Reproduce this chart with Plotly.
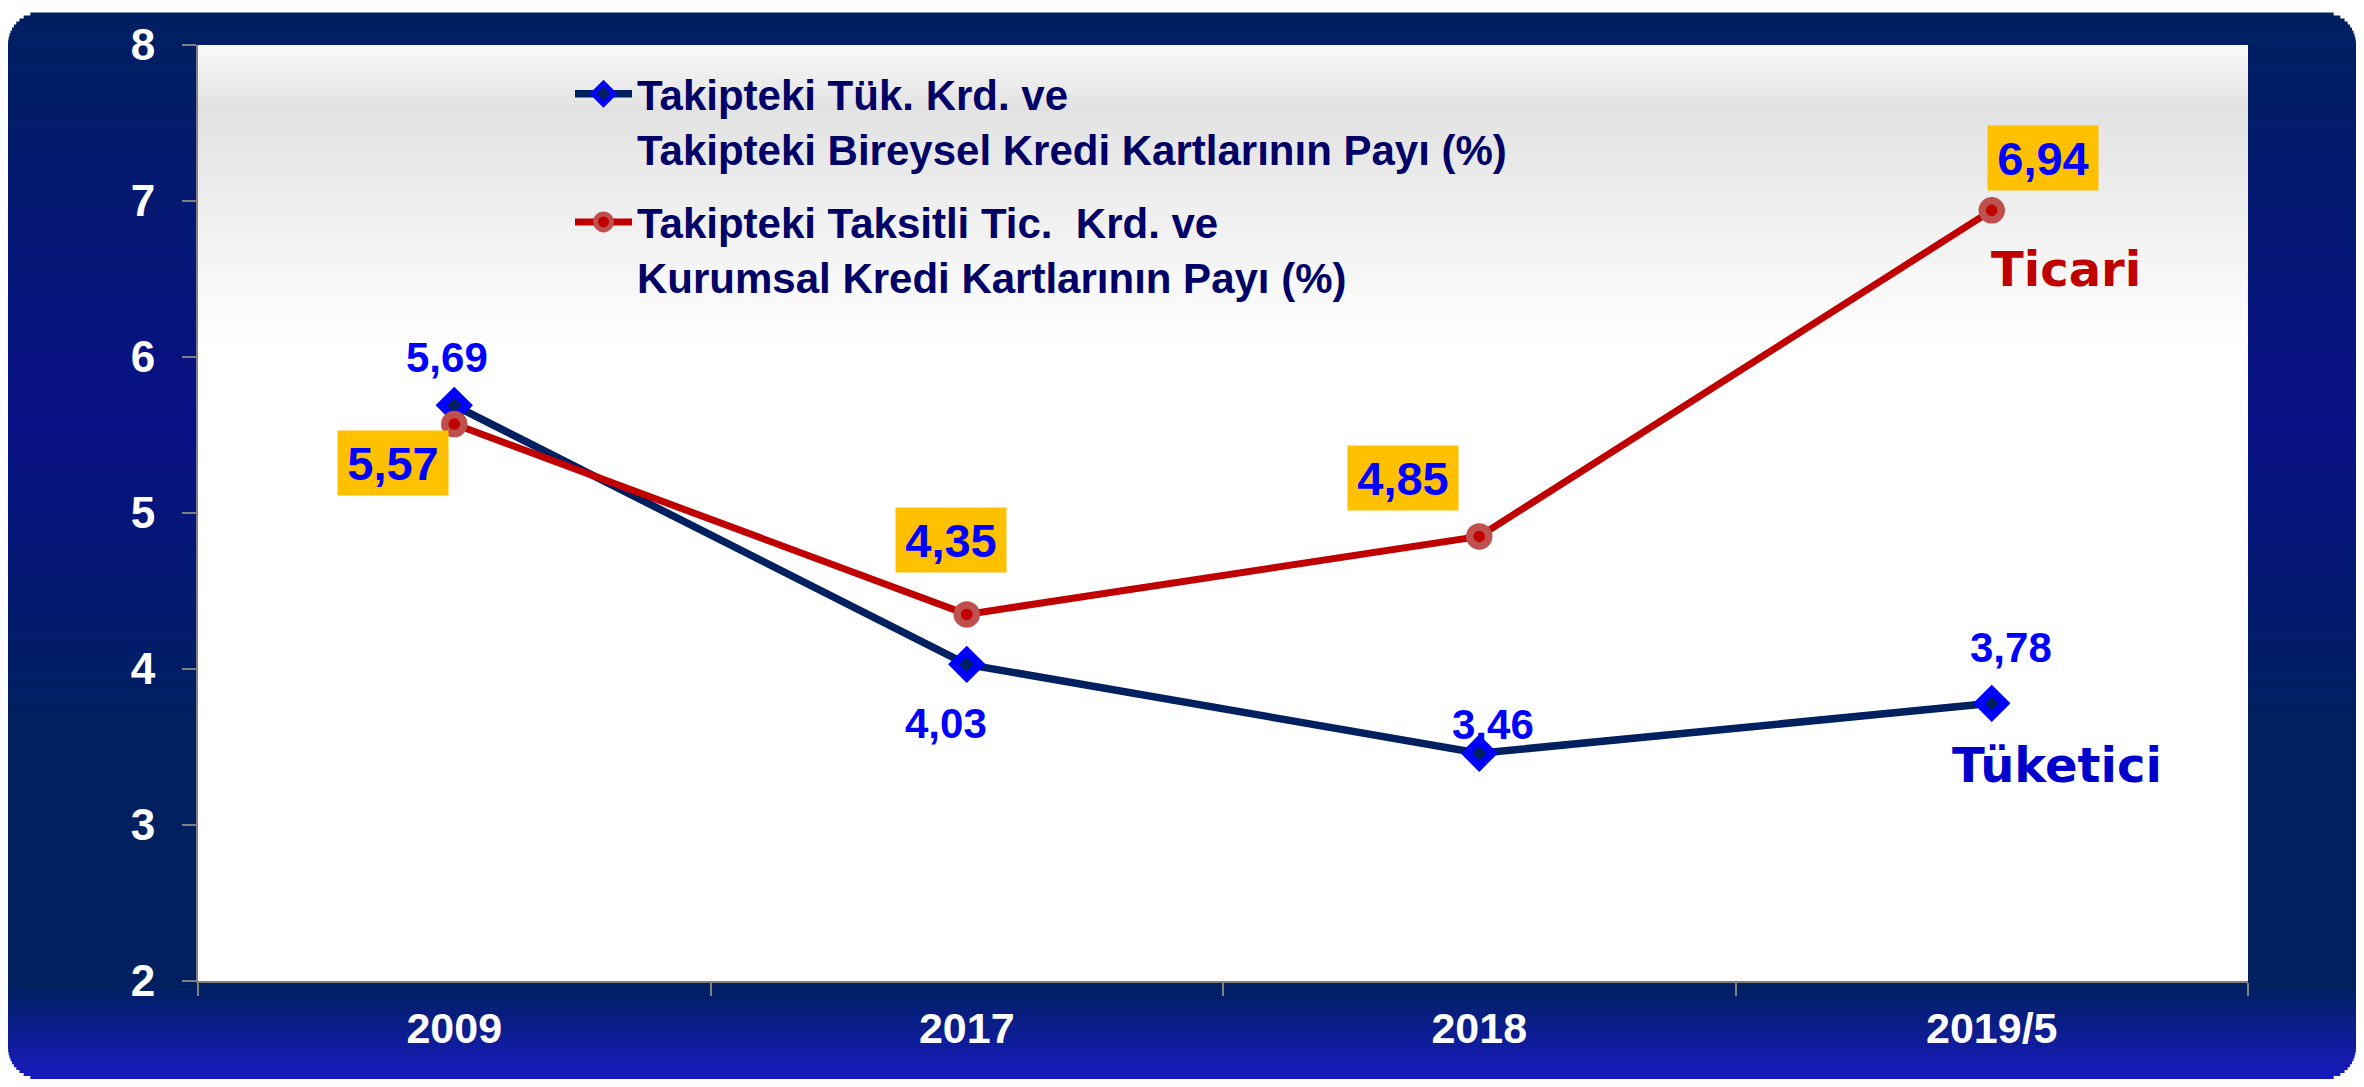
import math
import plotly.graph_objects as go

# ---------------- data ----------------
categories = ["2009", "2017", "2018", "2019/5"]
tuketici = [5.69, 4.03, 3.46, 3.78]
ticari = [5.57, 4.35, 4.85, 6.94]
y_ticks = [2, 3, 4, 5, 6, 7, 8]
name_tuketici = "Takipteki Tük. Krd. ve<br>Takipteki Bireysel Kredi Kartlarının Payı (%)"
name_ticari = "Takipteki Taksitli Tic.  Krd. ve<br>Kurumsal Kredi Kartlarının Payı (%)"

# label offsets in pixels (dx right, dy up) - styling only
off_tuketici = [(-7, 48), (-21, -59), (14, 29), (19, 56)]
off_ticari = [(-61, -39), (-16, 74), (-76, 58), (51, 52)]

# ---------------- geometry (screen coords, page has 8px body margin) ----------------
OFF = 8
W, H = 2364 - 2 * OFF, 1087 - 2 * OFF
L, R, T, B = 198 - OFF, 2248 - OFF, 40 - OFF, 981 - OFF


def px(xs):
    return (xs - OFF - L) / (R - L)


def py(ys):
    return (B - (ys - OFF)) / (B - T)


def interp(stops, y):
    for (y0, c0), (y1, c1) in zip(stops, stops[1:]):
        if y0 <= y <= y1:
            t = (y - y0) / (y1 - y0) if y1 > y0 else 0
            return "rgb(%d,%d,%d)" % tuple(round(a + (b - a) * t) for a, b in zip(c0, c1))
    return "rgb(%d,%d,%d)" % stops[-1][1]


shapes = []
# outer rounded gradient panel (screen coords)
OX0, OX1, OY0, OY1, RAD = OFF, 2356, OFF, 1087 - OFF, 32
outer_stops = [(0, (0, 32, 96)), (420, (9, 17, 134)), (720, (0, 32, 96)),
               (985, (0, 32, 96)), (1087, (26, 26, 198))]
step = 3
y = OY0
while y < OY1:
    y2 = min(y + step, OY1)
    mid = (y + y2) / 2
    d = min(mid - OY0, OY1 - mid)
    inset = 0
    if d < RAD:
        inset = RAD - math.sqrt(max(RAD ** 2 - (RAD - d) ** 2, 0))
    shapes.append(dict(type="rect", xref="paper", yref="paper", layer="below",
                       x0=px(OX0 + inset), x1=px(OX1 - inset),
                       y0=py(y2 + 0.6), y1=py(y - 0.6),
                       fillcolor=interp(outer_stops, mid), line=dict(width=0)))
    y = y2

# plot area background (white with gray band near top)
shapes.append(dict(type="rect", xref="paper", yref="paper", layer="below",
                   x0=0, x1=1, y0=0, y1=1, fillcolor="white", line=dict(width=0)))
plot_stops = [(40, (250, 250, 250)), (105, (226, 226, 226)), (200, (238, 238, 238)),
              (345, (255, 255, 255))]
y = 40
while y < 345:
    y2 = min(y + step, 345)
    mid = (y + y2) / 2
    shapes.append(dict(type="rect", xref="paper", yref="paper", layer="below",
                       x0=0, x1=1, y0=py(y2 + 0.6), y1=py(max(y - 0.6, 40)),
                       fillcolor=interp(plot_stops, mid), line=dict(width=0)))
    y = y2

FONT = "Liberation Sans, Arial, sans-serif"

fig = go.Figure()
fig.add_trace(go.Scatter(
    x=categories, y=tuketici, name=name_tuketici, mode="lines+markers",
    legendgroup="a",
    line=dict(color="#002060", width=7.5),
    marker=dict(symbol="diamond", size=20, color="#002060",
                line=dict(color="#0000FF", width=8)),
    cliponaxis=False,
))
fig.add_trace(go.Scatter(
    x=categories, y=ticari, name=name_ticari, mode="lines+markers",
    legendgroup="b",
    line=dict(color="#C00000", width=7),
    marker=dict(symbol="circle", size=19, color="#C00000",
                line=dict(color="#C0504D", width=7.5)),
    cliponaxis=False,
))


def fmt(v):
    return ("%.2f" % v).replace(".", ",")


annotations = []
for i, (v, (dx, dy)) in enumerate(zip(tuketici, off_tuketici)):
    annotations.append(dict(x=i, y=v, xref="x", yref="y", text=fmt(v), showarrow=False,
                            xanchor="center", yanchor="middle", xshift=dx, yshift=dy,
                            font=dict(family=FONT, size=42, color="#0000FF", weight="bold")))
for i, (v, (dx, dy)) in enumerate(zip(ticari, off_ticari)):
    annotations.append(dict(x=i, y=v, xref="x", yref="y", text=fmt(v), showarrow=False,
                            xanchor="center", yanchor="middle", xshift=dx, yshift=dy,
                            bgcolor="#FFC000", borderpad=6, width=98, height=52,
                            font=dict(family=FONT, size=47, color="#0000FF", weight="bold")))

last = len(categories) - 1
annotations.append(dict(x=last, y=ticari[-1], xref="x", yref="y", text="Ticari",
                        showarrow=False, xanchor="center", yanchor="middle",
                        xshift=74, yshift=-59,
                        font=dict(family="DejaVu Sans, sans-serif", size=48,
                                  color="#C00000", weight="bold")))
annotations.append(dict(x=last, y=tuketici[-1], xref="x", yref="y", text="Tüketici",
                        showarrow=False, xanchor="center", yanchor="middle",
                        xshift=65, yshift=-62,
                        font=dict(family="DejaVu Sans, sans-serif", size=48,
                                  color="#0000CC", weight="bold")))

fig.update_layout(
    width=W, height=H, autosize=False,
    margin=dict(l=L, r=W - R, t=T, b=H - B, pad=0),
    paper_bgcolor="white", plot_bgcolor="rgba(0,0,0,0)",
    shapes=shapes, annotations=annotations,
    showlegend=True,
    legend=dict(x=px(570), y=py(55), xanchor="left", yanchor="top",
                bgcolor="rgba(0,0,0,0)", borderwidth=0, valign="top",
                itemwidth=57, tracegroupgap=16, traceorder="grouped",
                font=dict(family=FONT, size=42, color="#000066", weight="bold")),
    xaxis=dict(type="category", range=[-0.5, 3.5], showgrid=False, zeroline=False,
               showline=True, linecolor="#808080", linewidth=2,
               ticks="outside", ticklen=13, tickwidth=2, tickcolor="#808080",
               tickson="boundaries", fixedrange=True, ticklabelstandoff=8,
               tickfont=dict(family=FONT, size=43, color="white", weight="bold")),
    yaxis=dict(range=[2, 8], tickvals=y_ticks, showgrid=False, zeroline=False,
               showline=True, linecolor="#808080", linewidth=2,
               ticks="outside", ticklen=14, tickwidth=2, tickcolor="#808080",
               fixedrange=True, ticklabelstandoff=18,
               tickfont=dict(family=FONT, size=44, color="white", weight="bold")),
)

fig.write_html("out.html", config={"displayModeBar": False})
